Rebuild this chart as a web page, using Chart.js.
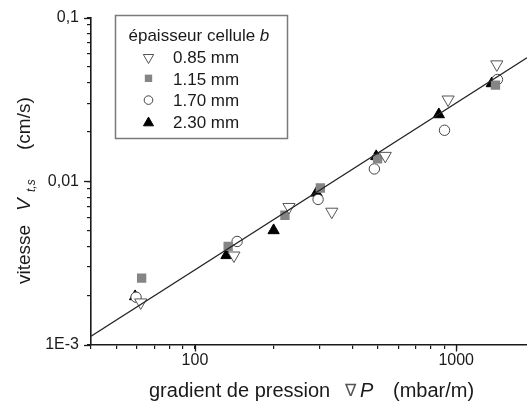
<!DOCTYPE html>
<html>
<head>
<meta charset="utf-8">
<script src="https://cdn.jsdelivr.net/npm/chart.js@4.4.1/dist/chart.umd.min.js"></script>
<style>
  html, body { margin: 0; padding: 0; background: #fff; }
  #wrap { width: 527px; height: 403px; }
</style>
</head>
<body>
<div id="wrap"><canvas id="c" width="527" height="403"></canvas></div>
<script>
// ---- data ----
const legendTitle = 'épaisseur cellule ';
const legendTitleItalic = 'b';
const seriesLabels = ['0.85 mm', '1.15 mm', '1.70 mm', '2.30 mm'];

const p085 = [62, 141, 229, 334, 535, 931, 1430];
const v085 = [0.00182, 0.00352, 0.00697, 0.00652, 0.0143, 0.0316, 0.0518];

const p115 = [62.5, 134, 221, 302, 500, 1413];
const v115 = [0.00256, 0.0040, 0.0062, 0.0091, 0.0137, 0.0387];

const p170 = [59.5, 145, 296, 486, 902, 1438];
const v170 = [0.00196, 0.00429, 0.00775, 0.0119, 0.0205, 0.0419];

const p230 = [59, 132, 200, 292, 494, 858, 1368];
const v230 = [0.00198, 0.00353, 0.00501, 0.0085, 0.0142, 0.0256, 0.0396];

const fitP = [40, 1866];
const fitV = [0.00113, 0.0569];

const xTickValues = [40, 50, 60, 70, 80, 90, 100, 200, 300, 400, 500, 600, 700, 800, 900, 1000];
const xMajorValues = [100, 1000];
const xMajorLabels = ['100', '1000'];

const yTickValues = [0.001, 0.002, 0.003, 0.004, 0.005, 0.006, 0.007, 0.008, 0.009,
                     0.01, 0.02, 0.03, 0.04, 0.05, 0.06, 0.07, 0.08, 0.09, 0.1];
const yMajorValues = [0.001, 0.01, 0.1];
const yMajorLabels = ['1E-3', '0,01', '0,1'];

const xRange = [40, 1866];
const yRange = [0.001, 0.1];
// ---------------------------------------

const FONT = '"Liberation Sans", Arial, Helvetica, sans-serif';
const TXT = '#1a1a1a';

function pts(xs, ys) { return xs.map((x, i) => ({ x: x, y: ys[i] })); }
function near(a, b) { return Math.abs(Math.log10(a) - Math.log10(b)) < 1e-6; }
function majorLabel(v, vals, labels) {
  for (let i = 0; i < vals.length; i++) if (near(v, vals[i])) return labels[i];
  return '';
}

const styles = [
  { pointStyle: 'triangle', rotation: 180, radius: 7, bg: '#ffffff', border: '#555555', bw: 1 },
  { pointStyle: 'rect', rotation: 0, radius: 6.6, bg: '#858585', border: '#858585', bw: 0 },
  { pointStyle: 'circle', rotation: 0, radius: 5.2, bg: '#ffffff', border: '#444444', bw: 1 },
  { pointStyle: 'triangle', rotation: 0, radius: 6.5, bg: '#000000', border: '#000000', bw: 1 }
];
const seriesData = [pts(p085, v085), pts(p115, v115), pts(p170, v170), pts(p230, v230)];

const datasets = seriesData.map((d, i) => ({
  label: seriesLabels[i],
  data: d,
  pointStyle: styles[i].pointStyle,
  rotation: styles[i].rotation,
  pointRadius: styles[i].radius,
  pointHoverRadius: styles[i].radius,
  backgroundColor: styles[i].bg,
  borderColor: styles[i].border,
  borderWidth: styles[i].bw,
  showLine: false,
  order: i + 1
}));
datasets.push({
  label: 'fit',
  data: pts(fitP, fitV),
  showLine: true,
  pointRadius: 0,
  borderColor: '#222222',
  borderWidth: 1.3,
  fill: false,
  order: 0
});

function drawMarker(ctx, st, x, y, r) {
  ctx.save();
  ctx.fillStyle = st.bg;
  ctx.strokeStyle = st.border;
  ctx.lineWidth = st.bw || 1;
  ctx.beginPath();
  if (st.pointStyle === 'circle') {
    ctx.arc(x, y, r, 0, Math.PI * 2);
  } else if (st.pointStyle === 'rect') {
    const s = r * Math.SQRT1_2;
    ctx.rect(x - s, y - s, 2 * s, 2 * s);
  } else {
    let rad = (st.rotation || 0) * Math.PI / 180;
    for (let k = 0; k < 3; k++) {
      const px = x + Math.sin(rad) * r, py = y - Math.cos(rad) * r;
      if (k === 0) ctx.moveTo(px, py); else ctx.lineTo(px, py);
      rad += 2 * Math.PI / 3;
    }
    ctx.closePath();
  }
  ctx.fill();
  if (st.bw > 0) ctx.stroke();
  ctx.restore();
}

const decorPlugin = {
  id: 'decor',
  afterDraw(chart) {
    const ctx = chart.ctx;
    const xs = chart.scales.x, ys = chart.scales.y;
    ctx.save();
    // longer major ticks
    ctx.strokeStyle = TXT;
    ctx.lineWidth = 1.3;
    xMajorValues.forEach(v => {
      const px = Math.round(xs.getPixelForValue(v)) + 0.5;
      ctx.beginPath(); ctx.moveTo(px, xs.top); ctx.lineTo(px, xs.top + 6.5); ctx.stroke();
    });
    yMajorValues.forEach(v => {
      const py = Math.round(ys.getPixelForValue(v)) + 0.5;
      ctx.beginPath(); ctx.moveTo(ys.right, py); ctx.lineTo(ys.right - 7, py); ctx.stroke();
    });

    // legend box
    const bx = 115.5, by = 15.5, bw = 172, bh = 123;
    ctx.fillStyle = '#ffffff';
    ctx.fillRect(bx, by, bw, bh);
    ctx.strokeStyle = '#7a7a7a';
    ctx.lineWidth = 1.5;
    ctx.strokeRect(bx, by, bw, bh);

    ctx.fillStyle = TXT;
    ctx.textBaseline = 'alphabetic';
    ctx.textAlign = 'left';
    ctx.font = '17px ' + FONT;
    ctx.fillText(legendTitle, 128.5, 40.5);
    const tw = ctx.measureText(legendTitle).width;
    ctx.font = 'italic 17px ' + FONT;
    ctx.fillText(legendTitleItalic, 128.5 + tw, 40.5);

    const lr = [6, 5.2, 4.3, 5.8];
    for (let i = 0; i < seriesLabels.length; i++) {
      const cy = 56.5 + i * 21.8;
      drawMarker(ctx, styles[i], 148.5, cy + (i === 0 ? 1 : (i === 3 ? 1 : 0)), lr[i]);
      ctx.fillStyle = TXT;
      ctx.font = '17px ' + FONT;
      ctx.fillText(seriesLabels[i], 173, cy + 6.3);
    }

    // x axis title
    ctx.fillStyle = TXT;
    ctx.font = '20px ' + FONT;
    ctx.fillText('gradient de pression', 149, 397);
    ctx.fillStyle = '#555';
    ctx.font = '17px "DejaVu Sans", sans-serif';
    ctx.fillText('\u2207', 345, 396);
    ctx.fillStyle = TXT;
    ctx.font = 'italic 20px ' + FONT;
    ctx.fillText('P', 360, 397);
    ctx.font = '20px ' + FONT;
    ctx.fillText('(mbar/m)', 393, 397);

    // y axis title
    ctx.save();
    ctx.translate(30, 284);
    ctx.rotate(-Math.PI / 2);
    ctx.font = '19px ' + FONT;
    ctx.fillText('vitesse', 0, 0);
    ctx.font = 'italic 19px ' + FONT;
    ctx.fillText('V', 73, 0);
    ctx.font = 'italic 12px ' + FONT;
    ctx.fillText('t,s', 92, 5);
    ctx.font = '19px ' + FONT;
    ctx.fillText('(cm/s)', 134, 0);
    ctx.restore();

    ctx.restore();
  }
};

new Chart(document.getElementById('c'), {
  type: 'scatter',
  data: { datasets: datasets },
  options: {
    responsive: false,
    animation: false,
    events: [],
    layout: { autoPadding: false, padding: { top: 15, right: 0, left: 0, bottom: 0 } },
    plugins: {
      legend: { display: false },
      tooltip: { enabled: false },
      title: { display: false }
    },
    scales: {
      x: {
        type: 'logarithmic',
        position: 'bottom',
        min: xRange[0],
        max: xRange[1],
        afterBuildTicks: s => { s.ticks = xTickValues.map(v => ({ value: v })); },
        afterFit: s => { s.height = 58; s.paddingRight = 0; s.paddingLeft = 0; },
        ticks: {
          autoSkip: false,
          maxRotation: 0,
          minRotation: 0,
          padding: 2,
          color: TXT,
          font: { size: 16, family: FONT },
          callback: v => majorLabel(v, xMajorValues, xMajorLabels)
        },
        grid: { drawOnChartArea: false, drawTicks: true, tickLength: 4, color: TXT, lineWidth: 1.2 },
        border: { display: true, color: TXT, width: 1.6 }
      },
      y: {
        type: 'logarithmic',
        position: 'left',
        min: yRange[0],
        max: yRange[1],
        afterBuildTicks: s => { s.ticks = yTickValues.map(v => ({ value: v })); },
        afterFit: s => { s.width = 91; },
        ticks: {
          autoSkip: false,
          padding: 8,
          color: TXT,
          font: { size: 16, family: FONT },
          callback: v => majorLabel(v, yMajorValues, yMajorLabels)
        },
        grid: { drawOnChartArea: false, drawTicks: true, tickLength: 4, color: TXT, lineWidth: 1.2 },
        border: { display: true, color: TXT, width: 1.6 }
      }
    }
  },
  plugins: [decorPlugin]
});
</script>
</body>
</html>
